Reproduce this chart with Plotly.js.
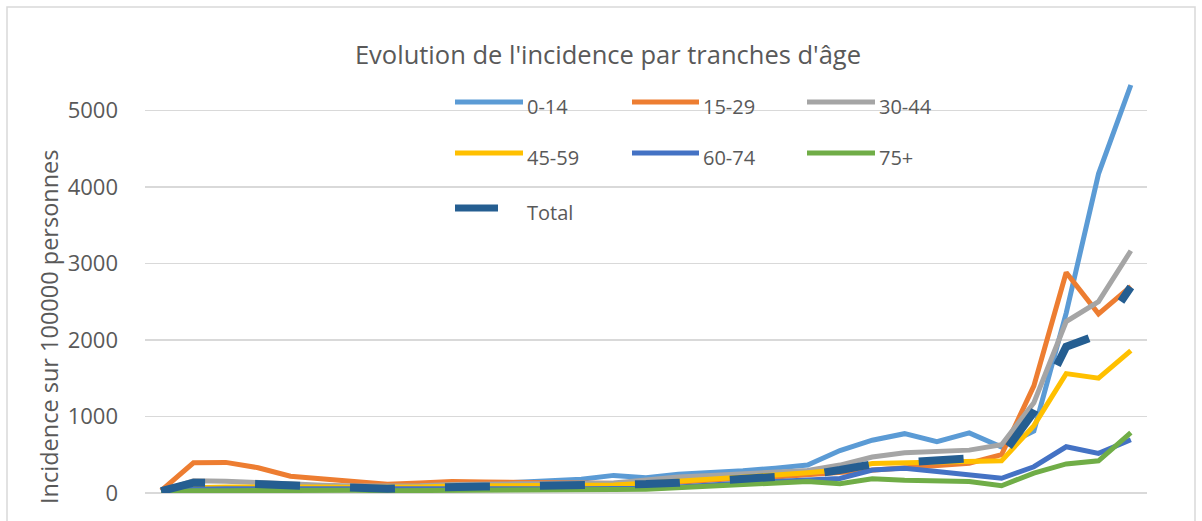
<!DOCTYPE html>
<html>
<head>
<meta charset="utf-8">
<script src="https://cdn.plot.ly/plotly-3.0.1.min.js"></script>
<style>html,body{margin:0;padding:0;background:#fff;}#chart{width:1202px;height:521px;}</style>
</head>
<body>
<div id="chart"></div>
<script>
// ---- data ----
const categories = [1,2,3,4,5,6,7,8,9,10,11,12,13,14,15,16,17,18,19,20,21,22,23,24,25,26,27,28,29,30,31];
const seriesNames = ["0-14","15-29","30-44","45-59","60-74","75+","Total"];
const age0_14  = [20,60,70,70,60,60,60,70,80,100,110,130,160,180,230,200,245,262,290,325,365,555,690,775,670,785,600,810,2350,4170,5330];
const age15_29 = [30,395,400,330,220,180,145,115,130,150,145,140,130,120,115,120,140,170,195,210,240,270,300,340,360,390,500,1400,2880,2340,2700];
const age30_44 = [20,160,155,135,110,100,90,85,95,110,120,120,120,120,130,170,210,230,250,272,295,365,470,525,550,560,630,1180,2240,2500,3165];
const age45_59 = [20,70,80,85,80,80,75,70,80,90,90,90,90,95,105,126,157,183,205,235,265,300,385,395,400,405,420,880,1560,1500,1860];
const age60_74 = [10,50,55,55,50,45,40,40,45,50,50,50,50,55,60,60,80,110,130,150,170,190,300,322,280,235,192,343,604,518,695];
const age75p   = [10,30,30,35,40,40,35,30,30,35,40,40,40,40,45,50,70,85,105,130,150,120,185,165,150,150,95,260,380,420,790];
const total    = [25,135,130,115,85,80,70,55,70,85,85,88,90,95,105,117,134,160,187,205,235,300,375,400,430,435,480,1060,1910,2070,2690];
const yTicks = [0,1000,2000,3000,4000,5000];
const titleText = "Evolution de l'incidence par tranches d'âge";
const yTitleText = "Incidence sur 100000 personnes";

// ---- styles ----
const colors = ["#5B9BD5","#ED7D31","#A5A5A5","#FFC000","#4472C4","#70AD47","#255E91"];
const values = [age0_14,age15_29,age30_44,age45_59,age60_74,age75p,total];
const FONT = "Open Sans, sans-serif";
const TXT = "#595959";

const L = 145, R = 1147, T = 72, B = 493; // plot box in px
const px = x => (x - L) / (R - L);
const py = y => (B - y) / (B - T);

const traces = values.map((v, i) => ({
  x: categories, y: v, type: "scatter", mode: "lines", name: seriesNames[i],
  showlegend: false, hoverinfo: "skip",
  line: i === 6 ? {color: colors[i], width: 8, dash: "45px,50px"} : {color: colors[i], width: 5}
}));

// custom legend (3 columns)
const legendPos = [
  {x0:455,x1:523,tx:528,y:102},{x0:632,x1:699,tx:704,y:102},{x0:807,x1:875,tx:880,y:102},
  {x0:455,x1:523,tx:528,y:153},{x0:632,x1:699,tx:704,y:153},{x0:807,x1:875,tx:880,y:153},
  {x0:455,x1:498,tx:528,y:208}
];
const shapes = [];
const annotations = [];
legendPos.forEach((p, i) => {
  shapes.push({type:"line", xref:"paper", yref:"paper", x0:px(p.x0), x1:px(p.x1), y0:py(p.y), y1:py(p.y),
    line:{color:colors[i], width: i===6 ? 7 : 5}});
  annotations.push({xref:"paper", yref:"paper", x:px(p.tx - 3), y:py(p.y+4), xanchor:"left", yanchor:"middle",
    text:seriesNames[i], showarrow:false, font:{family:FONT, size:20, color:TXT}});
});
// chart border
shapes.push({type:"rect", xref:"paper", yref:"paper", x0:px(7), x1:px(1195), y0:py(540), y1:py(7),
  line:{color:"#D9D9D9", width:1.5}, layer:"below"});
// y axis title
annotations.push({xref:"paper", yref:"paper", x:px(49), y:py(327), xanchor:"center", yanchor:"middle",
  textangle:-90, text:yTitleText, showarrow:false, font:{family:FONT, size:23.5, color:TXT}});

const layout = {
  width:1202, height:521,
  margin:{l:L, r:1202-R, t:T, b:521-B},
  paper_bgcolor:"#fff", plot_bgcolor:"#fff",
  title:{text:titleText, x:608/1202, xref:"container", xanchor:"center", y:1-55/521, yref:"container", yanchor:"middle",
    font:{family:FONT, size:25.5, color:TXT}},
  xaxis:{range:[0.5,31.5], showgrid:false, zeroline:false, showticklabels:false, ticks:"", showline:false, fixedrange:true},
  yaxis:{range:[0,5500], tickvals:yTicks, ticktext:yTicks.map(String), gridcolor:"#D9D9D9", gridwidth:1.5,
    zeroline:true, zerolinecolor:"#D9D9D9", zerolinewidth:1.5, showline:false, ticks:"",
    ticklabelstandoff:26, tickfont:{family:FONT, size:22, color:TXT}, fixedrange:true},
  shapes:shapes, annotations:annotations, showlegend:false
};
Plotly.newPlot("chart", traces, layout, {displayModeBar:false, staticPlot:true});
</script>
</body>
</html>
